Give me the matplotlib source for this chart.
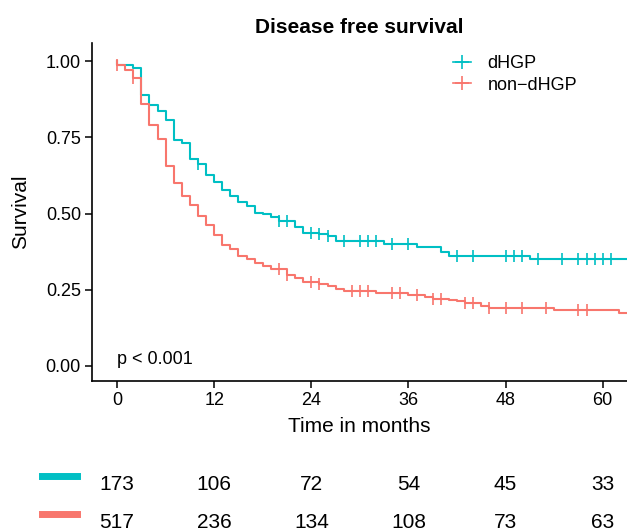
import matplotlib
matplotlib.use('Agg')
import matplotlib.pyplot as plt
import matplotlib.transforms as mtransforms
import numpy as np

plt.rc('font', family=['Liberation Sans', 'DejaVu Sans'])

# Kaplan-Meier steps: event times (months) and survival after each step
dhgp_t = [0, 2, 3, 4, 5, 6, 7, 8, 9, 10, 11, 12, 13, 14, 15, 16, 17, 18, 19, 20,
          22, 23, 25, 26, 27, 33, 37, 40, 41, 51]
dhgp_s = [0.989, 0.978, 0.89, 0.855, 0.837, 0.808, 0.743, 0.732, 0.68, 0.661, 0.627,
          0.602, 0.578, 0.556, 0.537, 0.525, 0.501, 0.498, 0.49, 0.474, 0.455, 0.437,
          0.433, 0.425, 0.411, 0.40, 0.391, 0.375, 0.36, 0.351]
dhgp_cens = [10, 20, 21, 24, 25, 26, 28, 30, 31, 32, 34, 36, 42, 44, 48, 49, 50,
             52, 55, 57, 58, 59, 60, 61]

ndhgp_t = [0, 1, 2, 3, 4, 5, 6, 7, 8, 9, 10, 11, 12, 13, 14, 15, 16, 17, 18, 19,
           21, 22, 23, 25, 26, 27, 28, 32, 36, 38, 39, 41, 42, 43, 45, 46, 54, 62]
ndhgp_s = [0.987, 0.97, 0.945, 0.86, 0.792, 0.746, 0.656, 0.60, 0.559, 0.527, 0.491,
           0.461, 0.431, 0.397, 0.382, 0.362, 0.351, 0.337, 0.329, 0.318, 0.298, 0.287,
           0.276, 0.269, 0.261, 0.252, 0.247, 0.238, 0.232, 0.227, 0.219, 0.216, 0.212,
           0.205, 0.196, 0.19, 0.183, 0.174]
ndhgp_cens = [0, 2, 20, 21, 24, 25, 29, 30, 31, 34, 35, 37, 39, 40, 43, 44, 46,
              48, 50, 53, 57, 58]

risk_times = [0, 12, 24, 36, 48, 60]
risk_dhgp = [173, 106, 72, 54, 45, 33]
risk_ndhgp = [517, 236, 134, 108, 73, 63]

teal = '#00BFC4'
red = '#F8766D'


def km_curve(times, surv):
    xs = [0.0] + list(times) + [64.0]
    ys = [1.0] + list(surv) + [surv[-1]]
    return np.array(xs), np.array(ys)


def surv_at(times, surv, t):
    s = 1.0
    for tt, ss in zip(times, surv):
        if tt <= t:
            s = ss
    return s


fig = plt.figure(figsize=(6.27, 5.31), dpi=100)
ax = fig.add_axes([92 / 627, 1 - 381 / 531, 1 - 92 / 627, (381 - 43) / 531])

for times, surv, cens, col, lab in [(dhgp_t, dhgp_s, dhgp_cens, teal, 'dHGP'),
                                     (ndhgp_t, ndhgp_s, ndhgp_cens, red, 'non\u2212dHGP')]:
    xs, ys = km_curve(times, surv)
    ax.step(xs, ys, where='post', color=col, lw=1.5)
    cy = [surv_at(times, surv, c) for c in cens]
    ax.plot(cens, cy, ls='none', marker='|', ms=9, mew=1.2, color=col)
    ax.plot([], [], color=col, lw=1.2, marker='+', ms=10, mew=1.2, label=lab)

ax.set_xlim(-3.1, 63.0)
ax.set_ylim(-0.05, 1.06)
ax.set_xticks(risk_times)
ax.set_yticks([0, 0.25, 0.5, 0.75, 1.0])
ax.set_yticklabels(['0.00', '0.25', '0.50', '0.75', '1.00'])
for s in ['top', 'right']:
    ax.spines[s].set_visible(False)
for s in ['left', 'bottom']:
    ax.spines[s].set_linewidth(1.2)
ax.tick_params(labelsize=13, length=5, width=1.1, colors='black', pad=3)
ax.set_xlabel('Time in months', fontsize=15, labelpad=6)
ax.set_ylabel('Survival', fontsize=15, labelpad=11)
ax.set_title('Disease free survival', fontsize=15, fontweight='bold', pad=7)
ax.text(0, -0.008, 'p < 0.001', fontsize=13, ha='left', va='bottom')

leg = ax.legend(loc='upper left', bbox_to_anchor=(0.645, 1.012), frameon=False,
                fontsize=13, handlelength=1.0, handletextpad=0.9, labelspacing=0.25)

# number at risk table
trans = mtransforms.blended_transform_factory(ax.transData, fig.transFigure)
for row_y, bar_y, vals, col in [(1 - 485 / 531, 1 - 476 / 531, risk_dhgp, teal),
                                (1 - 522 / 531, 1 - 514 / 531, risk_ndhgp, red)]:
    for t, v in zip(risk_times, vals):
        ax.text(t, row_y, str(v), transform=trans, ha='center', va='center',
                fontsize=15, clip_on=False)
    fig.add_artist(plt.Line2D([42 / 627, 77 / 627], [bar_y, bar_y], color=col, lw=5,
                              transform=fig.transFigure))

fig.savefig('out.png', dpi=100)
